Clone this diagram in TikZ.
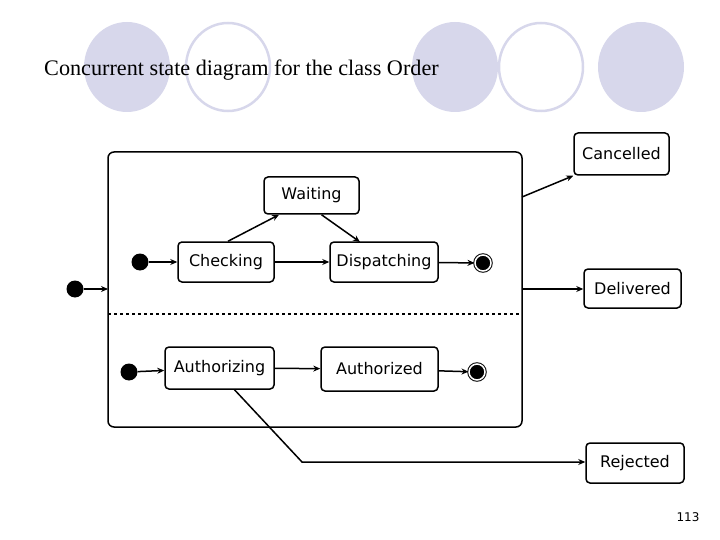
\documentclass[tikz,border=0pt]{standalone}
\usepackage{fontspec}
\setmainfont{Liberation Serif}
\newfontfamily\statefont{DejaVu Sans}
\usetikzlibrary{arrows.meta}
\definecolor{lavender}{RGB}{215,215,235}
\tikzset{
  state/.style={draw,line width=1.5pt,rounded corners=4pt,font=\statefont\fontsize{16}{18}\selectfont,inner sep=0pt},
  start/.style={circle,fill=black,inner sep=0pt,minimum size=17pt},
  stop/.style={circle,draw,line width=1pt,double,double distance=1.5pt,fill=black,inner sep=0pt,minimum size=16pt},
  trans/.style={line width=1.5pt,-{Stealth[length=7pt,width=6pt]}}
}
\begin{document}
\begin{tikzpicture}[x=1pt,y=-1pt]
\useasboundingbox (0,0) rectangle (720,540);
% background circles
\fill[lavender] (127,67) ellipse (43 and 45);
\draw[lavender,line width=2.5pt] (228,67) ellipse (42 and 44);
\fill[lavender] (455,67) ellipse (43 and 45);
\draw[lavender,line width=2.5pt] (541,67) ellipse (42 and 44);
\fill[lavender] (641,67) ellipse (43 and 45);
\node[anchor=base west,font=\fontsize{22.2}{26}\selectfont,inner sep=0pt] (title) at (44,76) {Concurrent state diagram for the class Order};

% composite state
\draw[line width=1.5pt,rounded corners=6pt] (108,152) rectangle (522,427);
\draw[line width=1.5pt,dashed] (108,314) -- (522,314);

% upper region
\node[state,minimum width=95pt,minimum height=37pt] (waiting) at (311.5,195.5) {Waiting};
\node[state,minimum width=96pt,minimum height=40pt] (checking) at (226,262) {Checking};
\node[state,minimum width=108pt,minimum height=40pt] (dispatching) at (384,262) {Dispatching};
\node[start] (init1) at (140,262) {};
\node[stop] (end1) at (483,263) {};
\draw[trans] (init1) -- (checking);
\draw[trans] (checking) -- (dispatching);
\draw[trans] (checking.north) ++(2,0) coordinate (c1) (c1) -- (waiting.south west -| 279,214);
\draw[trans] (waiting.south) ++(10,0) coordinate (w1) (w1) -- (360,242);
\draw[trans] (dispatching) -- (end1);

% lower region
\node[state,minimum width=109pt,minimum height=42pt] (authorizing) at (219.5,368) {Authorizing};
\node[state,minimum width=117pt,minimum height=44pt] (authorized) at (379.5,369) {Authorized};
\node[start] (init2) at (129,372) {};
\node[stop] (end2) at (477,372) {};
\draw[trans] (init2) -- (authorizing);
\draw[trans] (authorizing) -- (authorized);
\draw[trans] (authorized) -- (end2);

% outside
\node[start] (init0) at (75,289) {};
\coordinate (entry) at (108,289);
\draw[trans] (init0) -- (entry);
\node[state,minimum width=95pt,minimum height=42pt] (cancelled) at (621.5,154) {Cancelled};
\node[state,minimum width=97pt,minimum height=39pt] (delivered) at (632.5,288.5) {Delivered};
\node[state,minimum width=98pt,minimum height=40pt] (rejected) at (635,463) {Rejected};
\coordinate (exitc) at (522,197);
\coordinate (exitd) at (522,289);
\coordinate (bend) at (302,462);
\draw[trans] (exitc) -- (cancelled.south west);
\draw[trans] (exitd) -- (exitd -| delivered.west);
\draw[trans] (authorizing.south) ++(15,0) coordinate (a1) (a1) -- (bend) -- (bend -| rejected.west);

\node[font=\statefont\fontsize{12}{14}\selectfont,anchor=base east] (page) at (703,521) {113};
\end{tikzpicture}
\end{document}
